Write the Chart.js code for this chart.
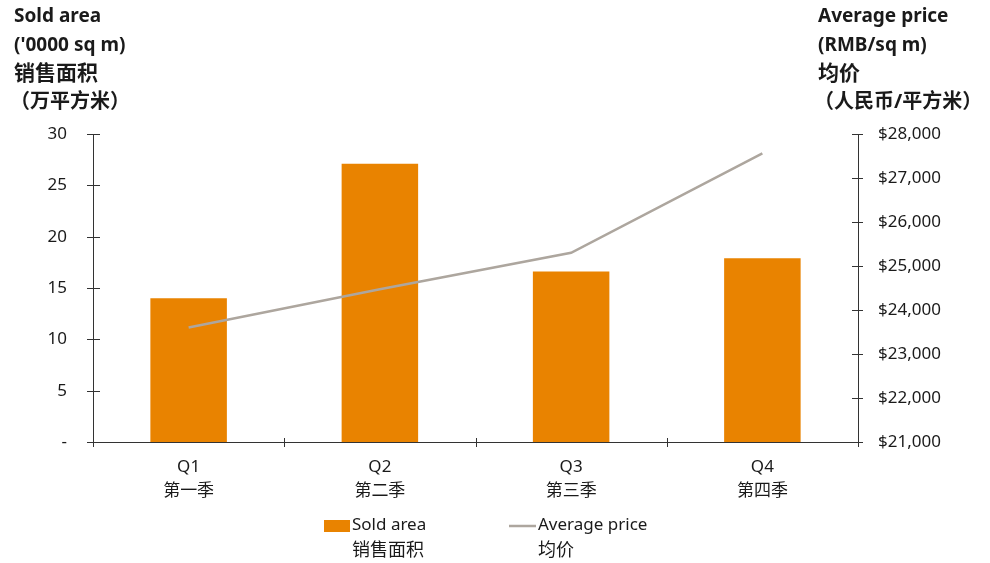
<!DOCTYPE html>
<html>
<head>
<meta charset="utf-8">
<script src="https://cdn.jsdelivr.net/npm/chart.js@4"></script>
<style>
  html, body { margin: 0; padding: 0; background: #fff; }
  #wrap { width: 990px; height: 563px; }
</style>
</head>
<body>
<div id="wrap"><canvas id="salesChart" width="990" height="563"></canvas></div>
<script>
// data
const quarters = [['Q1', '第一季'], ['Q2', '第二季'], ['Q3', '第三季'], ['Q4', '第四季']];
const soldArea = [14.0, 27.1, 16.6, 17.9];          // '0000 sq m
const avgPrice = [23600, 24470, 25300, 27560];      // RMB / sq m
const leftTitle = ['Sold area', "('0000 sq m)", '销售面积', '（万平方米）'];
const rightTitle = ['Average price', '(RMB/sq m)', '均价', '（人民币/平方米）'];
const legendItems = [['Sold area', '销售面积'], ['Average price', '均价']];

const ORANGE = '#E98300';
const GREY = '#ADA69E';
const INK = '#1a1a1a';
const FONT = '"Noto Sans", "Noto Sans CJK SC", sans-serif';

// axis titles, crossing tick marks and the two-line legend
const decor = {
    id: 'decor',
    afterDraw(chart) {
        const ctx = chart.ctx;
        const { x, y, y1 } = chart.scales;
        ctx.save();

        ctx.fillStyle = INK;
        ctx.textBaseline = 'middle';
        ctx.textAlign = 'left';
        const titleLine = (t, px, i) => {
            const size = i < 2 ? 19 : (i === 2 ? 21 : 20);
            ctx.font = 'bold ' + size + 'px ' + FONT;
            ctx.fillText(t, i === 3 ? px - 4 : px, 17 + i * 28.5);
        };
        leftTitle.forEach((t, i) => titleLine(t, 14, i));
        rightTitle.forEach((t, i) => titleLine(t, 818, i));

        ctx.strokeStyle = '#333';
        ctx.lineWidth = 1;
        ctx.beginPath();
        y.ticks.forEach(t => {
            const py = Math.round(y.getPixelForValue(t.value)) + 0.5;
            ctx.moveTo(x.left - 6, py); ctx.lineTo(x.left + 7, py);
        });
        y1.ticks.forEach(t => {
            const py = Math.round(y1.getPixelForValue(t.value)) + 0.5;
            ctx.moveTo(x.right - 6, py); ctx.lineTo(x.right + 5, py);
        });
        const step = (x.right - x.left) / quarters.length;
        for (let i = 0; i <= quarters.length; i++) {
            const px = Math.round(x.left + i * step) + 0.5;
            ctx.moveTo(px, y.bottom - 4); ctx.lineTo(px, y.bottom + 5);
        }
        ctx.stroke();

        // legend
        ctx.fillStyle = ORANGE;
        ctx.fillRect(324, 520, 26, 12);
        ctx.strokeStyle = GREY;
        ctx.lineWidth = 2.5;
        ctx.beginPath();
        ctx.moveTo(509, 526); ctx.lineTo(536, 526);
        ctx.stroke();
        ctx.fillStyle = INK;
        ctx.font = '17px ' + FONT;
        ctx.fillText(legendItems[0][0], 352, 525);
        ctx.fillText(legendItems[1][0], 538, 525);
        ctx.font = '18px ' + FONT;
        ctx.fillText(legendItems[0][1], 352, 551);
        ctx.fillText(legendItems[1][1], 538, 551);
        ctx.restore();
    }
};

const noGrid = { display: false, drawTicks: false, tickLength: 0 };

new Chart(document.getElementById('salesChart'), {
    data: {
        labels: quarters,
        datasets: [
            {
                type: 'line',
                label: 'Average price',
                data: avgPrice,
                yAxisID: 'y1',
                borderColor: GREY,
                borderWidth: 2.5,
                pointRadius: 0,
                tension: 0,
                order: 0
            },
            {
                type: 'bar',
                label: 'Sold area',
                data: soldArea,
                yAxisID: 'y',
                backgroundColor: ORANGE,
                barPercentage: 0.4,
                categoryPercentage: 1,
                order: 1
            }
        ]
    },
    options: {
        responsive: false,
        animation: false,
        layout: { padding: { top: 134, left: 0, right: 0, bottom: 0 } },
        plugins: { legend: { display: false }, tooltip: { enabled: false } },
        scales: {
            x: {
                grid: noGrid,
                border: { display: true, color: '#333', width: 1 },
                ticks: {
                    color: INK,
                    font: { family: FONT, size: 17, lineHeight: 1.4 },
                    padding: 13,
                    maxRotation: 0
                },
                afterFit(s) { s.height = 121; }
            },
            y: {
                position: 'left',
                min: 0, max: 30,
                grid: noGrid,
                border: { display: true, color: '#333', width: 1 },
                ticks: {
                    stepSize: 5,
                    color: INK,
                    font: { family: FONT, size: 17 },
                    padding: 26,
                    callback: v => v === 0 ? '-' : v
                },
                afterFit(s) { s.width = 93; }
            },
            y1: {
                position: 'right',
                min: 21000, max: 28000,
                grid: noGrid,
                border: { display: true, color: '#333', width: 1 },
                ticks: {
                    stepSize: 1000,
                    color: INK,
                    font: { family: FONT, size: 17 },
                    padding: 20,
                    callback: v => '$' + v.toLocaleString('en-US')
                },
                afterFit(s) { s.width = 132; }
            }
        }
    },
    plugins: [decor]
});
</script>
</body>
</html>
